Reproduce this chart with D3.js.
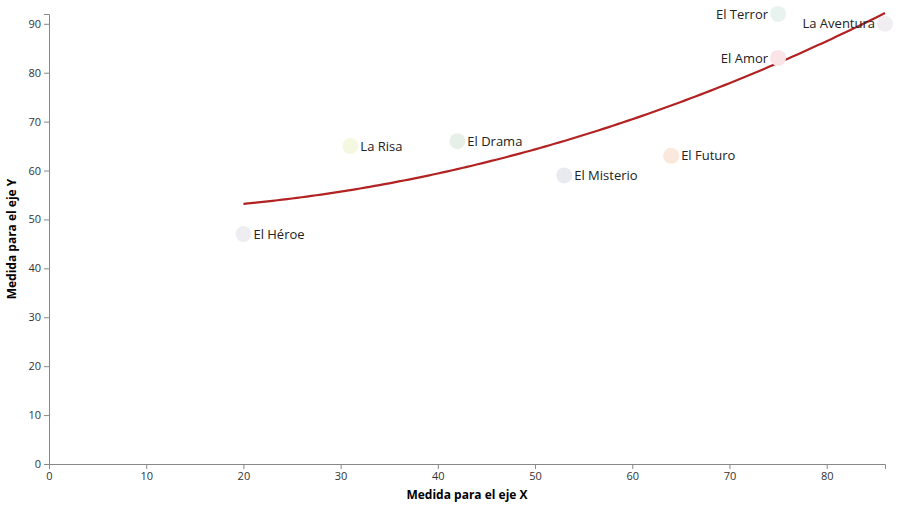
<!DOCTYPE html><html><head><meta charset="utf-8"><script src="https://cdn.jsdelivr.net/npm/d3@7"></script>
<style>body{margin:0;background:#fff}text{font-family:"Open Sans",sans-serif}</style></head><body><svg id="c" width="900" height="506"></svg>
<script>
const names=["El Héroe","La Risa","El Drama","El Misterio","El Futuro","El Amor","El Terror","La Aventura"];
const xs=[20,31,42,53,64,75,75,86];
const ys=[47,65,66,59,63,83,92,90];
const colors=["#eeeef2","#f4f8e0","#e6f0e6","#e8eaf0","#fbe8dc","#fbe4e8","#e8f2ee","#f0eef0"];
const leftLabel=[false,false,false,false,false,true,true,true];
const xTicks=[0,10,20,30,40,50,60,70,80], yTicks=[0,10,20,30,40,50,60,70,80,90];
const svg=d3.select("#c");
const x=d3.scaleLinear().domain([0,86]).range([49,885]);
const y=d3.scaleLinear().domain([0,92]).range([464,14]);
const gx=svg.append("g").attr("transform","translate(0,464)").call(d3.axisBottom(x).tickValues(xTicks).tickSize(5));
const gy=svg.append("g").attr("transform","translate(49,0)").call(d3.axisLeft(y).tickValues(yTicks).tickSize(5));
[gx,gy].forEach(g=>{g.selectAll("text").attr("fill","#333").style("font-size","11px");g.selectAll("path,line").attr("stroke","#888");});
svg.append("text").attr("x",467).attr("y",499).attr("text-anchor","middle").style("font-size","12px").style("font-weight","bold").text("Medida para el eje X");
svg.append("text").attr("transform","translate(16,239) rotate(-90)").attr("text-anchor","middle").style("font-size","12px").style("font-weight","bold").text("Medida para el eje Y");
// quadratic least squares
const n=xs.length;let S=[0,0,0,0,0],T=[0,0,0];
for(let i=0;i<n;i++){for(let k=0;k<5;k++)S[k]+=xs[i]**k;for(let k=0;k<3;k++)T[k]+=ys[i]*xs[i]**k;}
const M=[[S[0],S[1],S[2],T[0]],[S[1],S[2],S[3],T[1]],[S[2],S[3],S[4],T[2]]];
for(let i=0;i<3;i++){for(let j=i+1;j<3;j++){const f=M[j][i]/M[i][i];for(let k=i;k<4;k++)M[j][k]-=f*M[i][k];}}
const c=[0,0,0];for(let i=2;i>=0;i--){let s=M[i][3];for(let k=i+1;k<3;k++)s-=M[i][k]*c[k];c[i]=s/M[i][i];}
const fx=d3.range(20,86.01,0.5);
svg.append("path").datum(fx).attr("fill","none").attr("stroke","#b22222").attr("stroke-width",2.2)
 .attr("d",d3.line().x(d=>x(d)).y(d=>y(c[0]+c[1]*d+c[2]*d*d)));
const pts=svg.append("g").selectAll("g").data(names).join("g");
pts.append("circle").attr("cx",(d,i)=>x(xs[i])).attr("cy",(d,i)=>y(ys[i])).attr("r",8).attr("fill",(d,i)=>colors[i]);
pts.append("text").attr("x",(d,i)=>x(xs[i])+(leftLabel[i]?-10:10)).attr("y",(d,i)=>y(ys[i])+4.5)
 .attr("text-anchor",(d,i)=>leftLabel[i]?"end":"start").style("font-size","13px").attr("fill","#222").text(d=>d);
</script></body></html>
